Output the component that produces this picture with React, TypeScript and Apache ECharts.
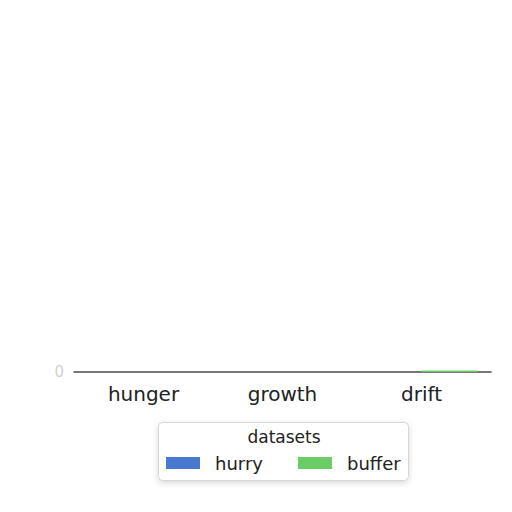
import React, { useEffect, useRef } from 'react';
import * as echarts from 'echarts';

const categories = ['hunger', 'growth', 'drift'];
const hurryValues = [0, 0, 0];
const bufferValues = [0, 0, 0.04];
const seriesNames = ['hurry', 'buffer'];
const legendTitle = 'datasets';

const App: React.FC = () => {
	const chartRef = useRef<HTMLDivElement>(null);

	useEffect(() => {
		if (!chartRef.current) return;
		const chart = echarts.init(chartRef.current, undefined, { renderer: 'svg' });

		const font = '"DejaVu Sans", sans-serif';

		const option: echarts.EChartsOption = {
			animation: false,
			backgroundColor: '#fff',
			grid: { left: 74, right: 21, top: 20, bottom: 140, containLabel: false },
			xAxis: {
				type: 'category',
				data: categories,
				axisLine: { lineStyle: { color: '#4a4a4a', width: 1.5 } },
				axisTick: { alignWithLabel: true, length: 6, lineStyle: { color: '#333', width: 1.2 } },
				axisLabel: { color: '#222', fontSize: 20, fontFamily: font, margin: 12 }
			},
			yAxis: {
				type: 'value',
				min: 0,
				max: 10,
				interval: 10,
				axisLine: { show: false },
				axisTick: { show: false },
				splitLine: { show: false },
				axisLabel: {
					color: '#d0d0d0',
					fontSize: 15,
					fontFamily: font,
					margin: 10,
					formatter: (v: number) => (v === 0 ? '0' : '')
				}
			},
			legend: {
				data: seriesNames,
				left: 161,
				top: 449,
				itemWidth: 34,
				itemHeight: 12,
				itemGap: 35,
				icon: 'rect',
				textStyle: { color: '#222', fontSize: 18, fontFamily: font, padding: [0, 0, 0, 10] },
				z: 10
			},
			graphic: [
				{
					type: 'rect',
					left: 158,
					top: 422,
					shape: { width: 250, height: 58, r: 4 },
					style: {
						fill: '#fff',
						stroke: '#d6d6d6',
						lineWidth: 1,
						shadowBlur: 6,
						shadowColor: 'rgba(0,0,0,0.15)',
						shadowOffsetY: 2
					},
					z: 5
				},
				{
					type: 'text',
					x: 284,
					y: 437,
					style: {
						text: legendTitle,
						fill: '#222',
						fontSize: 17,
						fontFamily: font,
						align: 'center',
						verticalAlign: 'middle'
					},
					z: 6
				}
			],
			series: [
				{
					name: seriesNames[0],
					type: 'bar',
					data: hurryValues,
					barWidth: '40%',
					barGap: '0%',
					itemStyle: { color: '#4878d0' }
				},
				{
					name: seriesNames[1],
					type: 'bar',
					data: bufferValues,
					barWidth: '40%',
					itemStyle: { color: '#6acc64' }
				}
			]
		};

		chart.setOption(option);
		return () => {
			chart.dispose();
		};
	}, []);

	return <div ref={chartRef} style={{ width: '512px', height: '512px', margin: '-8px' }} />;
};

export default App;
